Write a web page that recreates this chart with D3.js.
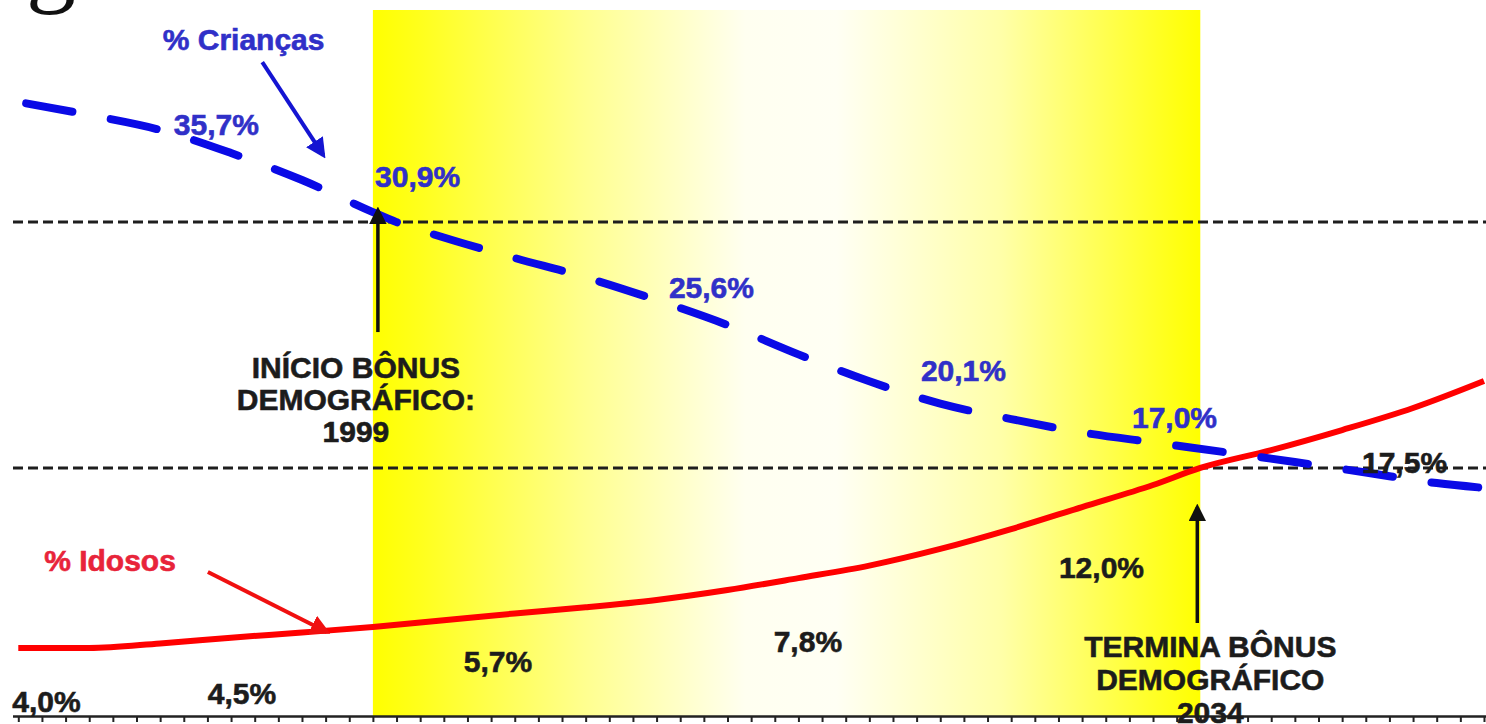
<!DOCTYPE html>
<html><head><meta charset="utf-8">
<script src="https://cdn.jsdelivr.net/npm/d3@7"></script>
<style>
html,body{margin:0;padding:0;background:#fff;overflow:hidden;}
svg{display:block;}
text{font-family:"Liberation Sans",Arial,sans-serif;font-weight:bold;}
</style></head>
<body>
<svg id="chart" width="1486" height="724"></svg>
<script>
// ---------- data ----------
const years = d3.range(1984, 2047);               // axis ticks (one per year)
const childYears  = [1984,1987,1990,1993,1996,1999,2000,2002,2005,2008,2011,2014,2017,2020,2023,2026,2029,2032,2035,2038,2041,2044,2046];
const childValues = [38.07,37.29,36.40,35.02,33.41,31.50,30.90,29.98,28.76,27.60,26.25,24.76,23.01,21.40,20.07,19.15,18.35,17.76,17.18,16.59,15.96,15.33,15.04];
const oldYears    = [1984,1987,1990,1993,1996,1999,2002,2005,2008,2011,2014,2017,2020,2023,2026,2029,2032,2034,2037,2040,2043,2046];
const oldValues   = [4.00,4.00,4.23,4.52,4.78,5.06,5.40,5.74,6.05,6.42,6.92,7.52,8.15,8.99,9.99,11.10,12.21,13.07,13.97,14.98,16.09,17.45];
const bonusStart = 1999, bonusEnd = 2034;
const childLabels = ["35,7%","30,9%","25,6%","20,1%","17,0%"];
const oldLabels   = ["4,0%","4,5%","5,7%","7,8%","12,0%","17,5%"];
const seriesNames = ["% Crianças","% Idosos"];
const startText = ["INÍCIO BÔNUS","DEMOGRÁFICO:","1999"];
const endText   = ["TERMINA BÔNUS","DEMOGRÁFICO","2034"];

// label anchors in data units (year, value on the series' own scale)
const childLabelAt = [[1992.38,36.10],[2000.89,32.99],[2013.32,26.37],[2023.98,21.42],[2032.91,18.62]];
const oldLabelAt   = [[1985.19,0.78],[1993.46,1.18],[2004.29,2.79],[2017.40,3.80],[2029.82,7.53],[2042.64,12.82]];

// ---------- layout ----------
const W = 1486, H = 724, axisY = 716, left = 13;
const svg = d3.select("#chart");
const x = d3.scaleLinear().domain([1984, 2046]).range([18.3, 18.3 + 62 * 23.64]);
const yChild = d3.scaleLinear().domain([0, 40]).range([740, 740 - 40 * 16.76]);
const yOld   = d3.scaleLinear().domain([0, 20]).range([727.4, 727.4 - 20 * 19.85]);

const defs = svg.append("defs");
const grad = defs.append("linearGradient").attr("id", "band").attr("x1", "0").attr("x2", "1").attr("y1", "0").attr("y2", "0");
[[0,"#ffff00"],[0.06,"#ffff1e"],[0.25,"#ffff8c"],[0.45,"#fffff0"],[0.56,"#fffff4"],[0.76,"#ffffa8"],[0.93,"#ffff30"],[1,"#ffff00"]]
  .forEach(([o,c]) => grad.append("stop").attr("offset", o).attr("stop-color", c));
defs.append("clipPath").attr("id", "plot").append("rect").attr("x", left).attr("y", 0).attr("width", W - left).attr("height", axisY);
function marker(id, color) {
  defs.append("marker").attr("id", id).attr("viewBox", "0 0 10 10").attr("refX", 8).attr("refY", 5)
    .attr("markerWidth", 5).attr("markerHeight", 5).attr("orient", "auto").attr("markerUnits", "strokeWidth")
    .append("path").attr("d", "M0,0 L10,5 L0,10 Z").attr("fill", color);
}
marker("ab", "#1414d2"); marker("ar", "#f01010"); marker("ak", "#111");

// cut-off title glyph at top-left
svg.append("text").attr("x", 26).attr("y", -6)
  .style("font-family", "Liberation Serif, serif").style("font-weight", "normal")
  .attr("font-size", 100).attr("fill", "#111").text("g");

// yellow bonus band
svg.append("rect").attr("x", x(bonusStart)).attr("y", 10).attr("width", x(bonusEnd) - x(bonusStart))
  .attr("height", axisY - 10).attr("fill", "url(#band)");

// dotted reference lines: level of children share at the start, elderly share at the end
const refStart = yChild(childValues[childYears.indexOf(2000)]);
const refEnd = yOld(oldValues[oldYears.indexOf(bonusEnd)]);
[refStart, refEnd].forEach(yy => svg.append("line").attr("x1", left).attr("x2", W).attr("y1", yy).attr("y2", yy)
  .attr("stroke", "#1e1e1e").attr("stroke-width", 3).attr("stroke-dasharray", "10,5"));

const g = svg.append("g").attr("clip-path", "url(#plot)");
const lineC = d3.line().x((d, i) => x(childYears[i])).y(d => yChild(d)).curve(d3.curveMonotoneX);
const lineO = d3.line().x((d, i) => x(oldYears[i])).y(d => yOld(d)).curve(d3.curveMonotoneX);
g.append("path").attr("d", lineO(oldValues)).attr("fill", "none").attr("stroke", "#ff0000").attr("stroke-width", 6);
g.append("path").attr("d", lineC(childValues)).attr("fill", "none").attr("stroke", "#0a0ae6")
  .attr("stroke-width", 8).attr("stroke-linecap", "round").attr("stroke-dasharray", "47,39").attr("stroke-dashoffset", 78);

// axis
const axis = d3.axisBottom(x).tickValues(years).tickSize(6).tickSizeOuter(0).tickFormat("");
const ax = svg.append("g").attr("transform", `translate(0,${axisY})`).call(axis);
ax.select(".domain").attr("d", `M${left},0.5H${W}`).attr("stroke", "#222").attr("stroke-width", 2.5);
ax.selectAll(".tick line").attr("stroke", "#222").attr("stroke-width", 2);

// labels
const fs = 30;
function bold(sel, color) { return sel.attr("fill", color).attr("stroke", color).attr("stroke-width", 0.6); }
bold(svg.selectAll(".lc").data(childLabels).join("text").attr("class", "lc")
  .attr("x", (d, i) => x(childLabelAt[i][0])).attr("y", (d, i) => yChild(childLabelAt[i][1]))
  .attr("text-anchor", "middle").attr("font-size", fs).text(d => d), "#3030c8");
bold(svg.selectAll(".lo").data(oldLabels).join("text").attr("class", "lo")
  .attr("x", (d, i) => x(oldLabelAt[i][0])).attr("y", (d, i) => yOld(oldLabelAt[i][1]))
  .attr("text-anchor", "middle").attr("font-size", fs).text(d => d), "#1c1c1c");

// series names with pointer arrows
bold(svg.append("text").attr("x", x(1993.53)).attr("y", yChild(41.17)).attr("text-anchor", "middle")
  .attr("font-size", fs).text(seriesNames[0]), "#3030c8");
svg.append("line").attr("x1", x(1994.32)).attr("y1", yChild(40.45)).attr("x2", x(1996.9)).attr("y2", yChild(34.90))
  .attr("stroke", "#1414d2").attr("stroke-width", 4).attr("marker-end", "url(#ab)");
bold(svg.append("text").attr("x", x(1987.88)).attr("y", yOld(7.88)).attr("text-anchor", "middle")
  .attr("font-size", fs).text(seriesNames[1]), "#e8243a");
svg.append("line").attr("x1", x(1992.02)).attr("y1", yOld(7.83)).attr("x2", x(1997.05)).attr("y2", yOld(4.81))
  .attr("stroke", "#f01010").attr("stroke-width", 4).attr("marker-end", "url(#ar)");

// bonus start / end arrows
svg.append("line").attr("x1", x(bonusStart) + 5).attr("x2", x(bonusStart) + 5).attr("y1", yChild(24.34)).attr("y2", yChild(31.62))
  .attr("stroke", "#111").attr("stroke-width", 3.5).attr("marker-end", "url(#ak)");
svg.append("line").attr("x1", x(bonusEnd) - 3).attr("x2", x(bonusEnd) - 3).attr("y1", yOld(5.26)).attr("y2", yOld(11.10))
  .attr("stroke", "#111").attr("stroke-width", 3.5).attr("marker-end", "url(#ak)");

bold(svg.selectAll(".st").data(startText).join("text").attr("class", "st")
  .attr("x", x(bonusStart) - 17).attr("y", (d, i) => 378 + i * 32).attr("text-anchor", "middle")
  .attr("font-size", fs).text(d => d), "#1c1c1c");
bold(svg.selectAll(".et").data(endText).join("text").attr("class", "et")
  .attr("x", x(bonusEnd) + 10).attr("y", (d, i) => 657 + i * 33).attr("text-anchor", "middle")
  .attr("font-size", fs).text(d => d), "#1c1c1c");
</script>
</body></html>
